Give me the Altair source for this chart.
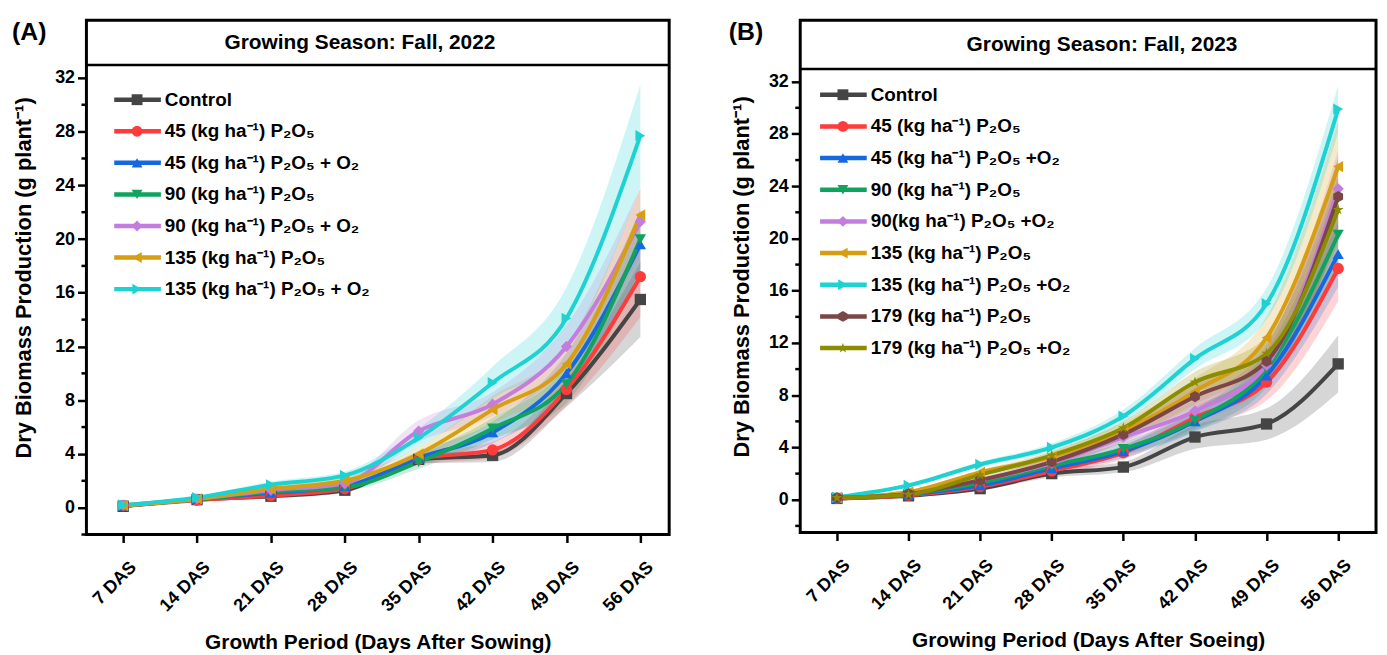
import altair as alt
import pandas as pd

FONT = "Liberation Sans"
DAYS = [7, 14, 21, 28, 35, 42, 49, 56]
MAJOR_TICKS = [0, 4, 8, 12, 16, 20, 24, 28, 32]
MINOR_TICKS = [-2, 2, 6, 10, 14, 18, 22, 26, 30]

# ---------------- Panel A (Fall 2022) ----------------
A_LABELS = [
    "Control",
    "45 (kg ha\u207b\u00b9) P\u2082O\u2085",
    "45 (kg ha\u207b\u00b9) P\u2082O\u2085 + O\u2082",
    "90 (kg ha\u207b\u00b9) P\u2082O\u2085",
    "90 (kg ha\u207b\u00b9) P\u2082O\u2085 + O\u2082",
    "135 (kg ha\u207b\u00b9) P\u2082O\u2085",
    "135 (kg ha\u207b\u00b9) P\u2082O\u2085 + O\u2082",
]
A_VALUES = [
    [0.10, 0.60, 0.85, 1.30, 3.60, 3.90, 8.50, 15.5],
    [0.15, 0.55, 0.90, 1.40, 3.60, 4.30, 8.80, 17.2],
    [0.15, 0.65, 1.10, 1.60, 3.70, 5.60, 10.0, 19.6],
    [0.15, 0.60, 1.20, 1.50, 3.40, 5.90, 9.20, 20.0],
    [0.20, 0.65, 1.30, 1.80, 5.70, 7.70, 12.0, 21.3],
    [0.15, 0.65, 1.40, 2.00, 4.00, 7.30, 10.7, 21.8],
    [0.20, 0.75, 1.70, 2.40, 5.20, 9.30, 14.1, 27.7],
]
A_ERRORS = [
    [0.05, 0.10, 0.15, 0.20, 0.30, 0.50, 1.00, 2.80],
    [0.05, 0.10, 0.15, 0.20, 0.40, 0.60, 1.20, 3.00],
    [0.05, 0.10, 0.20, 0.25, 0.50, 0.80, 1.50, 2.50],
    [0.05, 0.10, 0.20, 0.25, 0.50, 0.80, 1.40, 2.20],
    [0.05, 0.10, 0.20, 0.30, 0.80, 0.90, 1.60, 2.50],
    [0.05, 0.10, 0.20, 0.30, 0.50, 1.00, 1.40, 2.00],
    [0.05, 0.10, 0.25, 0.30, 0.70, 1.20, 2.30, 3.80],
]

# ---------------- Panel B (Fall 2023) ----------------
B_LABELS = [
    "Control",
    "45 (kg ha\u207b\u00b9) P\u2082O\u2085",
    "45 (kg ha\u207b\u00b9) P\u2082O\u2085 +O\u2082",
    "90 (kg ha\u207b\u00b9) P\u2082O\u2085",
    "\u00a090(kg ha\u207b\u00b9) P\u2082O\u2085 +O\u2082",
    "\u00a0135 (kg ha\u207b\u00b9) P\u2082O\u2085",
    "\u00a0135 (kg ha\u207b\u00b9) P\u2082O\u2085 +O\u2082",
    "179 (kg ha\u207b\u00b9) P\u2082O\u2085",
    "179 (kg ha\u207b\u00b9) P\u2082O\u2085 +O\u2082",
]
B_VALUES = [
    [0.10, 0.30, 0.85, 2.00, 2.50, 4.80, 5.80, 10.4],
    [0.10, 0.35, 1.00, 2.20, 3.60, 6.30, 9.00, 17.7],
    [0.10, 0.40, 1.10, 2.40, 3.70, 6.00, 9.50, 18.8],
    [0.10, 0.45, 1.30, 2.60, 3.90, 6.10, 10.0, 20.3],
    [0.15, 0.50, 1.50, 2.80, 4.80, 6.80, 10.3, 23.8],
    [0.15, 0.60, 2.10, 3.30, 5.30, 8.30, 12.4, 25.5],
    [0.20, 1.10, 2.70, 4.00, 6.40, 10.8, 15.0, 29.9],
    [0.15, 0.45, 1.50, 2.90, 5.00, 7.90, 10.6, 23.2],
    [0.15, 0.40, 1.90, 3.40, 5.50, 9.00, 11.2, 22.2],
]
B_ERRORS = [
    [0.05, 0.10, 0.15, 0.30, 0.40, 0.90, 1.20, 2.20],
    [0.05, 0.10, 0.20, 0.30, 0.50, 0.80, 1.40, 2.50],
    [0.05, 0.10, 0.20, 0.30, 0.50, 0.80, 1.40, 2.50],
    [0.05, 0.10, 0.20, 0.30, 0.50, 0.80, 1.40, 2.50],
    [0.05, 0.10, 0.20, 0.30, 0.60, 0.90, 1.50, 3.00],
    [0.05, 0.10, 0.20, 0.40, 0.60, 1.00, 1.60, 3.50],
    [0.05, 0.10, 0.20, 0.30, 0.50, 0.80, 1.20, 1.80],
    [0.05, 0.10, 0.20, 0.40, 0.60, 0.90, 1.50, 3.00],
    [0.05, 0.10, 0.20, 0.30, 0.50, 0.80, 1.30, 2.50],
]

COLORS = ["#454545", "#ff3b3b", "#1668e0", "#10a35f", "#c27ddf",
          "#d69e10", "#1ed2d2", "#7a4646", "#8c8c00"]
HEXAGON = "M0,-1L0.866,-0.5L0.866,0.5L0,1L-0.866,0.5L-0.866,-0.5Z"
STAR = ("M0,-1L0.2245,-0.309L0.951,-0.309L0.363,0.118L0.588,0.809L0,0.382"
        "L-0.588,0.809L-0.363,0.118L-0.951,-0.309L-0.2245,-0.309Z")
SHAPES = ["square", "circle", "triangle-up", "triangle-down", "diamond",
          "triangle-left", "triangle-right", HEXAGON, STAR]


def panel(tag, labels, values, errors, season, xtitle, width, height,
          ydom, xdom, header_px, hdr_dx, legend_top, legend_step, lx0, ltag, tagx, ytp):
    n = len(labels)
    keys = [f"{tag}{i}" for i in range(n)]
    rows = []
    for i in range(n):
        for j, d in enumerate(DAYS):
            rows.append({"k": keys[i], "x": d, "v": values[i][j],
                         "lo": values[i][j] - errors[i][j],
                         "hi": values[i][j] + errors[i][j]})
    df = pd.DataFrame(rows)
    leg = pd.DataFrame({"k": keys, "label": labels, "li": list(range(n))})

    color = alt.Color("k:N", scale=alt.Scale(domain=keys, range=COLORS[:n]), legend=None)
    shape = alt.Shape("k:N", scale=alt.Scale(domain=keys, range=SHAPES[:n]), legend=None)
    xenc = alt.X("x:Q", scale=alt.Scale(domain=xdom, nice=False, zero=False),
                 axis=alt.Axis(values=DAYS, labelExpr="datum.value + ' DAS'",
                               labelAngle=-45, labelAlign="right", labelBaseline="middle",
                               labelFontSize=18, labelFontWeight="bold", labelColor="black",
                               labelPadding=22, labelOffset=10, labelOverlap=False,
                               tickSize=8, tickWidth=2.5, tickColor="black",
                               domain=False, grid=False, title=xtitle,
                               titleFontSize=21, titleFontWeight="bold",
                               titlePadding=17, titleColor="black"))
    yscale = alt.Scale(domain=ydom, nice=False, zero=False)
    yaxis = alt.Axis(values=MAJOR_TICKS, labelOverlap=False,
                     tickSize=9, tickWidth=2.5, tickColor="black", labelFontSize=18,
                     labelFontWeight="bold", labelColor="black", labelPadding=3,
                     domain=False, grid=False,
                     title="Dry Biomass Production (g plant\u207b\u00b9)",
                     titleFontSize=22, titleFontWeight="bold", titleColor="black",
                     titlePadding=ytp)

    base = alt.Chart(df)
    band = base.mark_area(opacity=0.22, interpolate="monotone").encode(
        x=xenc, y=alt.Y("lo:Q", scale=yscale, axis=yaxis), y2="hi:Q", color=color)
    line = base.mark_line(strokeWidth=4, interpolate="monotone").encode(
        x=xenc, y=alt.Y("v:Q", scale=yscale), color=color)
    pts = base.mark_point(filled=True, size=130, opacity=1).encode(
        x=xenc, y=alt.Y("v:Q", scale=yscale), color=color, shape=shape)

    minor = alt.Chart(pd.DataFrame({"m": MINOR_TICKS})).mark_rule(
        color="black", strokeWidth=2.5).encode(
        x=alt.value(-5), x2=alt.value(0), y=alt.Y("m:Q", scale=yscale))

    one = pd.DataFrame({"t": [season], "tag": [ltag]})
    hdr_rule = alt.Chart(one).mark_rule(color="black", strokeWidth=2.5).encode(
        x=alt.value(0), x2=alt.value(width), y=alt.value(header_px))
    hdr_text = alt.Chart(one).mark_text(fontSize=21, fontWeight="bold", font=FONT,
                                        baseline="middle", align="center", color="black").encode(
        x=alt.value(width / 2 + hdr_dx), y=alt.value(header_px / 2), text="t:N")
    tag_text = alt.Chart(one).mark_text(fontSize=25, fontWeight="bold", font=FONT,
                                        baseline="middle", align="left", color="black").encode(
        x=alt.value(tagx), y=alt.value(12), text="tag:N")

    main = alt.layer(band, line, pts, minor, hdr_rule, hdr_text, tag_text)

    a = -legend_top / legend_step
    b = a + height / legend_step
    lscale = alt.Scale(domain=[a, b], reverse=True, nice=False, zero=False)
    lb = alt.Chart(leg)
    lrule = lb.mark_rule(strokeWidth=4.5).encode(
        x=alt.value(lx0), x2=alt.value(lx0 + 47),
        y=alt.Y("li:Q", scale=lscale, axis=None), color=color)
    lpts = lb.mark_point(filled=True, size=120, opacity=1).encode(
        x=alt.value(lx0 + 23), y=alt.Y("li:Q", scale=lscale, axis=None),
        color=color, shape=shape)
    ltxt = lb.mark_text(align="left", baseline="middle", fontSize=19, fontWeight="bold",
                        font=FONT, color="black").encode(
        x=alt.value(lx0 + 51), y=alt.Y("li:Q", scale=lscale, axis=None), text="label:N")
    legend = alt.layer(lrule, lpts, ltxt)

    return alt.layer(main, legend).resolve_scale(y="independent").properties(
        width=width, height=height)


pA = panel("A", A_LABELS, A_VALUES, A_ERRORS, "Growing Season: Fall, 2022",
           "Growth Period (Days After Sowing)", 587, 518, [-2.0, 36.29], [3.52, 58.73],
           45, -18, 80, 31.8, 28, "(A)", -75, 19)
pB = panel("B", B_LABELS, B_VALUES, B_ERRORS, "Growing Season: Fall, 2023",
           "Growing Period (Days After Soeing)", 580, 516, [-2.51, 36.7], [3.41, 59.7],
           49, 14, 75, 31.9, 20, "(B)", -72, 15)

chart = alt.hconcat(pA, pB, spacing=55).resolve_scale(
    color="independent", shape="independent").properties(
    padding={"left": 2, "top": 8, "right": 0, "bottom": 0}
).configure(font=FONT).configure_view(stroke="black", strokeWidth=3)

chart.save("out.html", embed_options={"renderer": "svg", "actions": False})
